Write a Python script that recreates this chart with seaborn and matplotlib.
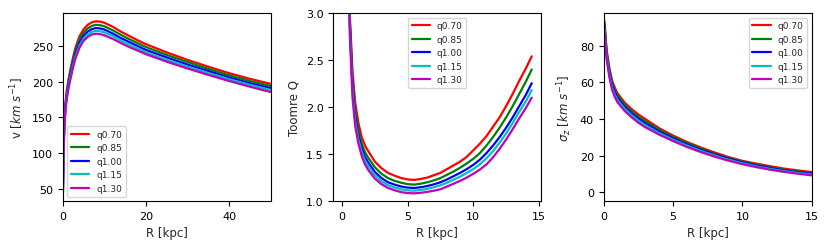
import numpy as np
import pandas as pd
import matplotlib
matplotlib.use('Agg')
import matplotlib.pyplot as plt
import seaborn as sns

# series labels and colours
q_labels = ['q0.70', 'q0.85', 'q1.00', 'q1.15', 'q1.30']
colors = ['r', 'g', 'b', 'c', 'm']

# rotation curve v(R)
R_v = [0.05, 0.2, 0.4, 0.7, 1.0, 1.5, 2, 2.5, 3, 4, 5, 6, 7, 8, 9, 10,
       12, 14, 16, 18, 20, 25, 30, 35, 40, 45, 50]
v_q070 = [45, 105, 145, 172, 188, 206, 221, 234, 246, 263, 273, 279.5, 283, 284.5, 284, 282.5,
          277, 270, 264, 258, 252.5, 241, 230.5, 221, 212, 204, 197]
v_q085 = [44, 103, 143, 169, 185, 203, 217, 230, 242, 259, 268.5, 274.5, 278, 279.5, 279, 277.5,
          272, 265.5, 259.5, 254, 248.5, 237.5, 227.5, 218, 209, 201, 194]
v_q100 = [43, 101, 140, 166, 182, 199, 213, 226, 238, 254, 264, 270, 273.5, 275, 274.5, 273,
          267.5, 261, 255.5, 250, 244.5, 234, 224, 215, 206, 198, 191]
v_q115 = [42, 99, 138, 164, 179, 196, 210, 223, 234, 250, 260, 266, 269.5, 271, 270.5, 269,
          264, 257.5, 252, 246.5, 241, 230.5, 221, 212, 203.5, 195.5, 188.5]
v_q130 = [41, 98, 136, 162, 177, 194, 207, 220, 231, 247, 257, 262.5, 266, 267, 266.5, 265,
          260, 254, 248.5, 243.5, 238.5, 228, 218.5, 209.5, 201, 193, 185.5]

# Toomre Q(R)
R_Q = [0.05, 0.2, 0.4, 0.6, 0.8, 1.0, 1.25, 1.5, 1.75, 2.0, 2.5, 3, 3.5, 4, 4.5, 5, 5.5,
       6, 6.5, 7, 7.5, 8, 8.5, 9, 9.5, 10, 10.5, 11, 11.5, 12, 12.5, 13, 13.5, 14, 14.45]
Q_q070 = [60, 12, 4.8, 2.95, 2.38, 2.05, 1.83, 1.68, 1.59, 1.53, 1.42, 1.35, 1.30, 1.27, 1.245, 1.23, 1.225,
          1.235, 1.25, 1.275, 1.30, 1.34, 1.38, 1.42, 1.47, 1.54, 1.61, 1.69, 1.79, 1.89, 2.01, 2.14, 2.28, 2.41, 2.54]
Q_q085 = [58, 11.5, 4.6, 2.90, 2.29, 1.96, 1.75, 1.61, 1.52, 1.46, 1.36, 1.29, 1.245, 1.215, 1.195, 1.18, 1.175,
          1.185, 1.20, 1.22, 1.245, 1.28, 1.315, 1.355, 1.40, 1.45, 1.51, 1.59, 1.68, 1.78, 1.89, 2.01, 2.14, 2.27, 2.40]
Q_q100 = [56, 11, 4.4, 2.85, 2.22, 1.90, 1.69, 1.56, 1.47, 1.41, 1.31, 1.245, 1.20, 1.175, 1.155, 1.143, 1.139,
          1.147, 1.16, 1.178, 1.20, 1.23, 1.265, 1.30, 1.34, 1.385, 1.44, 1.51, 1.59, 1.68, 1.78, 1.89, 2.01, 2.13, 2.254]
Q_q115 = [55, 10.8, 4.3, 2.80, 2.16, 1.85, 1.65, 1.52, 1.43, 1.37, 1.275, 1.21, 1.17, 1.145, 1.125, 1.114, 1.11,
          1.118, 1.13, 1.147, 1.168, 1.195, 1.228, 1.26, 1.30, 1.34, 1.39, 1.455, 1.53, 1.62, 1.72, 1.83, 1.95, 2.06, 2.18]
Q_q130 = [54, 10.5, 4.2, 2.75, 2.10, 1.80, 1.61, 1.48, 1.39, 1.33, 1.24, 1.18, 1.14, 1.115, 1.095, 1.085, 1.082,
          1.088, 1.098, 1.11, 1.125, 1.155, 1.185, 1.215, 1.25, 1.29, 1.335, 1.39, 1.465, 1.555, 1.655, 1.765, 1.88, 1.99, 2.10]

# vertical velocity dispersion sigma_z(R)
R_s = [0.05, 0.2, 0.4, 0.6, 0.8, 1.0, 1.5, 2, 2.5, 3, 4, 5, 6, 7, 8, 9, 10, 11, 12, 13, 14, 15]
s_q070 = [93.5, 78, 68, 61, 57, 54, 49, 45.5, 42.5, 40, 35, 31, 27.5, 24.5, 21.8, 19.3, 17.2, 15.7, 14.3, 13.0, 12.0, 11.1]
s_q085 = [92, 76.8, 66.8, 59.8, 55.8, 52.8, 47.9, 44.3, 41.3, 38.8, 34.1, 30.2, 26.9, 23.9, 21.1, 18.7, 16.8, 15.2, 13.7, 12.4, 11.4, 10.7]
s_q100 = [90.5, 75.5, 65.5, 58.5, 54.5, 51.5, 46.8, 43.2, 40.2, 37.7, 33.2, 29.5, 26.2, 23.3, 20.7, 18.4, 16.4, 14.7, 13.3, 12.0, 11.1, 10.3]
s_q115 = [89, 74.2, 64.2, 57.2, 53.2, 50.2, 45.6, 42.1, 39.1, 36.6, 32.3, 28.7, 25.5, 22.6, 20.1, 17.8, 15.9, 14.2, 12.8, 11.6, 10.6, 9.8]
s_q130 = [87.5, 73, 63, 56, 52, 49, 44.5, 41, 38, 35.5, 31.5, 28, 24.8, 22, 19.5, 17.3, 15.4, 13.8, 12.4, 11.2, 10.2, 9.3]


def long_form(R, series, name):
    frames = [pd.DataFrame({'R': R, name: vals, 'q': lab}) for lab, vals in zip(q_labels, series)]
    return pd.concat(frames, ignore_index=True)


df_v = long_form(R_v, [v_q070, v_q085, v_q100, v_q115, v_q130], 'v')
df_Q = long_form(R_Q, [Q_q070, Q_q085, Q_q100, Q_q115, Q_q130], 'Q')
df_s = long_form(R_s, [s_q070, s_q085, s_q100, s_q115, s_q130], 'sigma')

sns.set_style('ticks')
plt.rcParams['font.family'] = ['DejaVu Sans']
plt.rcParams['xtick.labelsize'] = 8
plt.rcParams['ytick.labelsize'] = 8
plt.rcParams['axes.labelsize'] = 8.5
plt.rcParams['axes.edgecolor'] = 'black'
plt.rcParams['xtick.color'] = 'black'
plt.rcParams['ytick.color'] = 'black'

fig, axes = plt.subplots(1, 3, figsize=(8.3, 2.51), dpi=100)
fig.subplots_adjust(left=0.0755, right=0.978, bottom=0.195, top=0.944, wspace=0.301)

# v(R)
ax = axes[0]
sns.lineplot(data=df_v, x='R', y='v', hue='q', palette=colors, linewidth=1.6, ax=ax)
ax.set_xlim(0, 50)
ax.set_ylim(33, 296)
ax.set_xticks([0, 20, 40])
ax.set_yticks([50, 100, 150, 200, 250])
ax.set_xlabel('R [kpc]')
ax.set_ylabel(r'v [$km\ s^{-1}$]')
sns.move_legend(ax, 'lower left', title=None, fontsize=6.5, frameon=True)

# Toomre Q
ax = axes[1]
sns.lineplot(data=df_Q, x='R', y='Q', hue='q', palette=colors, linewidth=1.6, ax=ax)
ax.set_ylim(1.0, 3.0)
ax.set_xticks([0, 5, 10, 15])
ax.set_yticks([1.0, 1.5, 2.0, 2.5, 3.0])
ax.set_xlabel('R [kpc]')
ax.set_ylabel('Toomre Q')
sns.move_legend(ax, 'upper center', title=None, fontsize=6.5, frameon=True)

# sigma_z
ax = axes[2]
sns.lineplot(data=df_s, x='R', y='sigma', hue='q', palette=colors, linewidth=1.6, ax=ax)
ax.set_xlim(0, 15)
ax.set_ylim(-4.7, 97.8)
ax.set_xticks([0, 5, 10, 15])
ax.set_yticks([0, 20, 40, 60, 80])
ax.set_xlabel('R [kpc]')
ax.set_ylabel(r'$\sigma_z$ [$km\ s^{-1}$]')
sns.move_legend(ax, 'upper right', title=None, fontsize=6.5, frameon=True)

for ax in axes:
    ax.tick_params(length=3.5, width=0.8)

plt.savefig('out.png', dpi=100)
